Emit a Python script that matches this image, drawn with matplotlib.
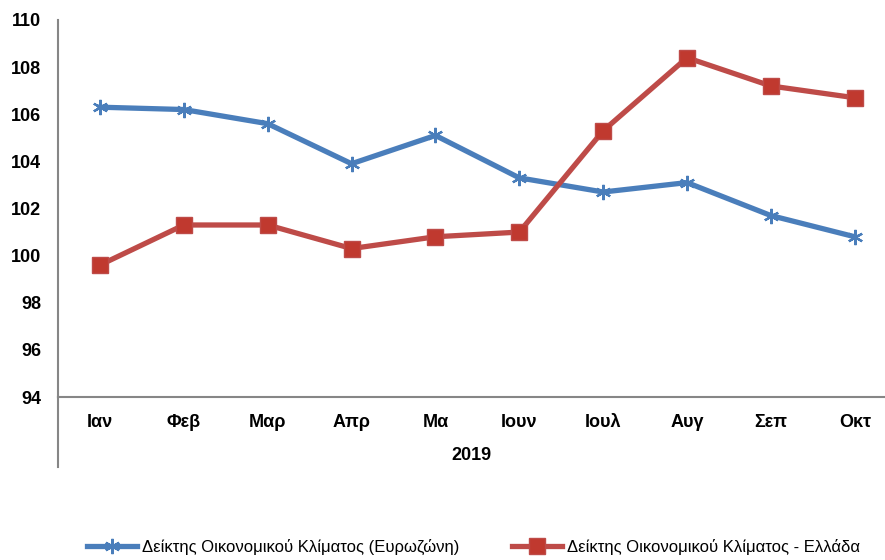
"""Economic sentiment indicator 2019: euro area vs Greece."""

import matplotlib.pyplot as plt
from matplotlib.lines import Line2D

months = ["Ιαν", "Φεβ", "Μαρ", "Απρ", "Μα", "Ιουν", "Ιουλ", "Αυγ", "Σεπ", "Οκτ"]
eurozone = [106.3, 106.2, 105.6, 103.9, 105.1, 103.3, 102.7, 103.1, 101.7, 100.8]
greece = [99.6, 101.3, 101.3, 100.3, 100.8, 101.0, 105.3, 108.4, 107.2, 106.7]
year_label = "2019"
label_ez = "Δείκτης Οικονομικού Κλίματος (Ευρωζώνη)"
label_gr = "Δείκτης Οικονομικού Κλίματος - Ελλάδα"

BLUE = "#4A7EBB"
RED = "#BE4B48"
GREY = "#868686"

plt.rcParams["font.family"] = ["Liberation Sans", "DejaVu Sans"]
plt.rcParams["font.weight"] = "bold"

fig = plt.figure(figsize=(8.85, 5.6), dpi=100)
ax = fig.add_axes([58 / 885, 1 - 397 / 560, 1 - 58 / 885, 377 / 560])

x = list(range(len(months)))
ax.plot(x, eurozone, color=BLUE, lw=3.8, marker=(6, 2, 0), ms=11, mew=1.6,
        mec=BLUE, label=label_ez, zorder=3)
ax.plot(x, greece, color=RED, lw=3.8, marker="s", ms=11, mfc="#C0392F",
        mec=RED, label=label_gr, zorder=3)

ax.set_ylim(94, 110)
ax.set_yticks(range(94, 111, 2))
ax.set_xlim(-0.5, len(months) - 0.64)
ax.set_xticks(x)
ax.set_xticklabels(months)
ax.tick_params(axis="both", length=0, labelsize=13)
ax.tick_params(axis="y", pad=12)
ax.tick_params(axis="x", pad=12)

for side in ("top", "right"):
    ax.spines[side].set_visible(False)
for side in ("left", "bottom"):
    ax.spines[side].set_color(GREY)
    ax.spines[side].set_linewidth(1.5)

# category axis extends below the plot area
ax.add_line(Line2D([0, 0], [0, -70 / 377], transform=ax.transAxes,
                   color=GREY, lw=1.5, clip_on=False))
ax.text(0.5, -58 / 377, year_label, transform=ax.transAxes,
        ha="center", va="center", fontsize=13, fontweight="bold")

fig.legend(loc="center", bbox_to_anchor=(0.535, 1 - 547 / 560), ncol=2,
           frameon=False, handlelength=3.0, columnspacing=3.2,
           handletextpad=0.3, prop={"weight": "normal", "size": 12})

fig.savefig("out.png", dpi=100)
